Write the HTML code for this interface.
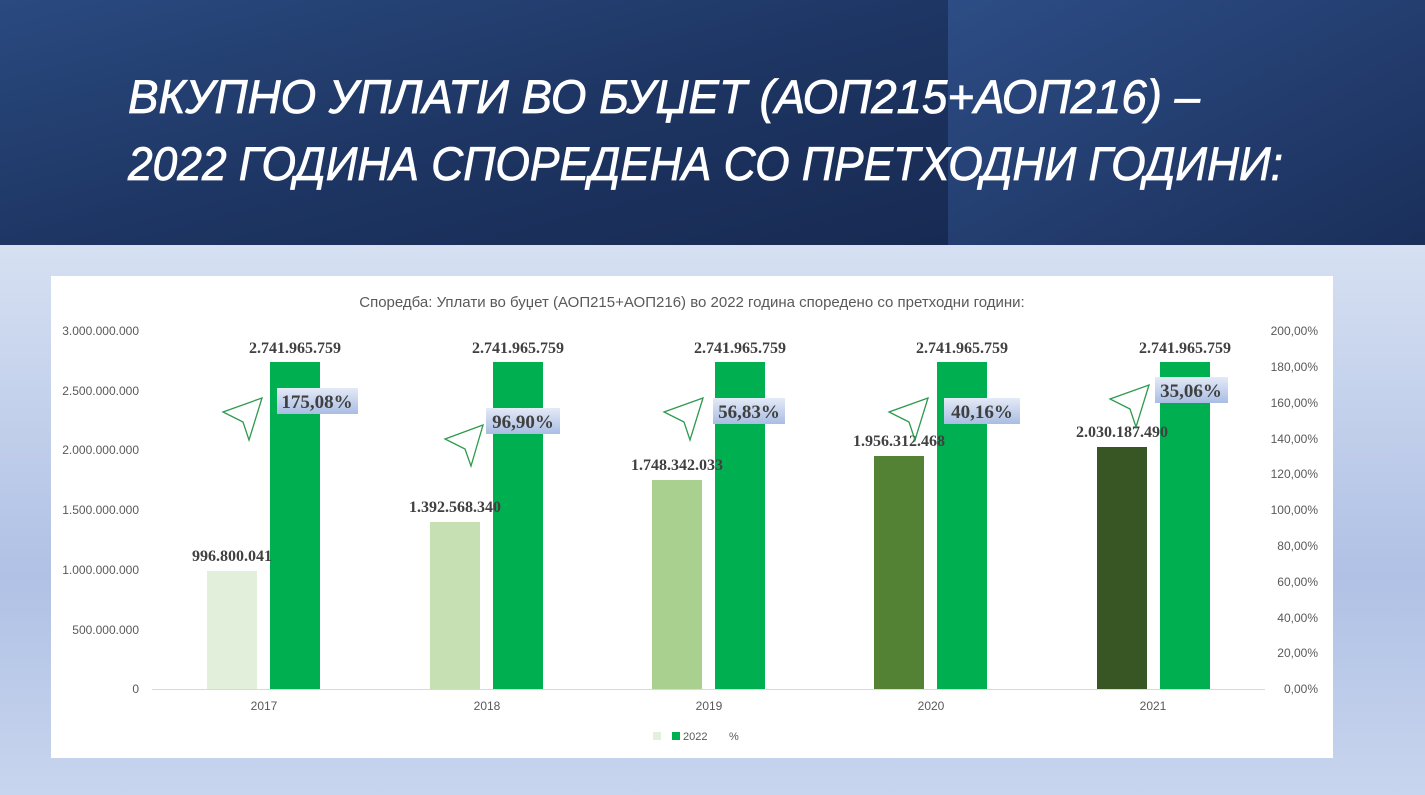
<!DOCTYPE html>
<html><head><meta charset="utf-8"><style>
body{margin:0;width:1425px;height:795px;overflow:hidden;}
svg{display:block}
</style></head><body>
<svg width="1425" height="795" xmlns="http://www.w3.org/2000/svg">
<defs>
<linearGradient id="hd" x1="0" y1="0" x2="1" y2="1">
<stop offset="0" stop-color="#2a4a80"/><stop offset="0.5" stop-color="#1e3664"/><stop offset="1" stop-color="#172a52"/></linearGradient>
<linearGradient id="hd2" x1="0" y1="0" x2="1" y2="1">
<stop offset="0" stop-color="#2d4d86"/><stop offset="1" stop-color="#1a2f5a"/></linearGradient>
<linearGradient id="bg" x1="0" y1="0" x2="0" y2="1">
<stop offset="0" stop-color="#d6e0f2"/><stop offset="0.6" stop-color="#b0c1e5"/><stop offset="1" stop-color="#c8d5ee"/></linearGradient>
<linearGradient id="lb" x1="0" y1="0" x2="0" y2="1">
<stop offset="0" stop-color="#e4eaf6"/><stop offset="1" stop-color="#a9bde3"/></linearGradient>
</defs>
<rect y="245" width="1425" height="550" fill="url(#bg)"/>
<rect width="948" height="245" fill="url(#hd)"/>
<rect x="948" width="477" height="245" fill="url(#hd2)"/>
<g font-family="Liberation Sans, sans-serif" font-style="italic" font-size="47" fill="#fff" stroke="#fff" stroke-width="0.8">
<text x="128" y="113" textLength="1072" lengthAdjust="spacingAndGlyphs">ВКУПНО УПЛАТИ ВО БУЏЕТ (АОП215+АОП216) –</text>
<text x="128" y="180" textLength="1155" lengthAdjust="spacingAndGlyphs">2022 ГОДИНА СПОРЕДЕНА СО ПРЕТХОДНИ ГОДИНИ:</text>
</g>
<rect x="51" y="276" width="1282" height="482" fill="#fff"/>
<text x="692" y="307" font-family="Liberation Sans, sans-serif" font-size="15" fill="#595959" text-anchor="middle">Споредба: Уплати во буџет (АОП215+АОП216) во 2022 година споредено со претходни години:</text>
<g font-family="Liberation Sans, sans-serif" font-size="12" fill="#595959">
<g text-anchor="end">
<text x="139" y="335">3.000.000.000</text><text x="139" y="395">2.500.000.000</text><text x="139" y="454">2.000.000.000</text><text x="139" y="514">1.500.000.000</text><text x="139" y="574">1.000.000.000</text><text x="139" y="634">500.000.000</text><text x="139" y="693">0</text>
</g>
<g text-anchor="end">
<text x="1318" y="335">200,00%</text><text x="1318" y="371">180,00%</text><text x="1318" y="407">160,00%</text><text x="1318" y="443">140,00%</text><text x="1318" y="478">120,00%</text><text x="1318" y="514">100,00%</text><text x="1318" y="550">80,00%</text><text x="1318" y="586">60,00%</text><text x="1318" y="622">40,00%</text><text x="1318" y="657">20,00%</text><text x="1318" y="693">0,00%</text>
</g>
<g text-anchor="middle">
<text x="264" y="710">2017</text><text x="487" y="710">2018</text><text x="709" y="710">2019</text><text x="931" y="710">2020</text><text x="1153" y="710">2021</text>
</g>
<rect x="653" y="732" width="8" height="8" fill="#e2efda"/>
<rect x="672" y="732" width="8" height="8" fill="#00b050"/>
<text x="683" y="740" font-size="11">2022</text>
<text x="729" y="740" font-size="11">%</text>
</g>
<line x1="152" y1="689.5" x2="1265" y2="689.5" stroke="#d9d9d9"/>
<g>
<rect x="207" y="571" width="50" height="118" fill="#e2efda"/>
<rect x="430" y="522" width="50" height="167" fill="#c6e0b4"/>
<rect x="652" y="480" width="50" height="209" fill="#a9d08e"/>
<rect x="874" y="456" width="50" height="233" fill="#548235"/>
<rect x="1097" y="447" width="50" height="242" fill="#375623"/>
<rect x="270" y="362" width="50" height="327" fill="#00b050"/>
<rect x="493" y="362" width="50" height="327" fill="#00b050"/>
<rect x="715" y="362" width="50" height="327" fill="#00b050"/>
<rect x="937" y="362" width="50" height="327" fill="#00b050"/>
<rect x="1160" y="362" width="50" height="327" fill="#00b050"/>
</g>
<g font-family="Liberation Serif, serif" font-weight="bold" font-size="16" fill="#404040" text-anchor="middle">
<text x="295" y="353">2.741.965.759</text><text x="518" y="353">2.741.965.759</text><text x="740" y="353">2.741.965.759</text><text x="962" y="353">2.741.965.759</text><text x="1185" y="353">2.741.965.759</text>
<text x="232" y="561">996.800.041</text><text x="455" y="512">1.392.568.340</text><text x="677" y="470">1.748.342.033</text><text x="899" y="446">1.956.312.468</text><text x="1122" y="437">2.030.187.490</text>
</g>
<g fill="url(#lb)">
<rect x="277" y="388" width="81" height="26"/>
<rect x="486" y="408" width="74" height="26"/>
<rect x="713" y="398" width="72" height="26"/>
<rect x="944" y="398" width="76" height="26"/>
<rect x="1155" y="377" width="73" height="26"/>
</g>
<g font-family="Liberation Serif, serif" font-weight="bold" font-size="19" fill="#404040" text-anchor="middle">
<text x="317" y="408">175,08%</text><text x="523" y="428">96,90%</text><text x="749" y="418">56,83%</text><text x="982" y="418">40,16%</text><text x="1191" y="397">35,06%</text>
</g>
<g fill="none" stroke="#2e9a4e" stroke-width="1.3" stroke-linejoin="miter">
<polygon points="262,398 223,412 243,422 249,440"/>
<polygon points="483,425 445,439 465,449 471,466"/>
<polygon points="703,398 664,412 684,422 690,440"/>
<polygon points="928,398 889,412 909,422 915,440"/>
<polygon points="1149,385 1110,399 1130,409 1136,427"/>
</g>
</svg>
</body></html>
